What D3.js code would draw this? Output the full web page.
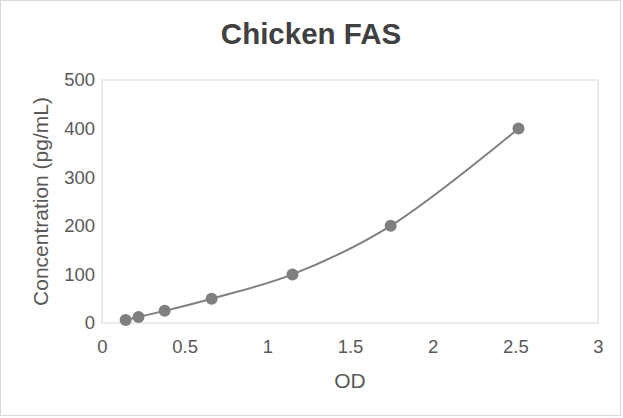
<!DOCTYPE html>
<html>
<head>
<meta charset="utf-8">
<script src="https://cdn.jsdelivr.net/npm/d3@7"></script>
<style>
  body { margin: 0; background: #fff; }
  text { font-family: "Liberation Sans", Arial, sans-serif; }
</style>
</head>
<body>
<svg id="chart" width="623" height="418"></svg>
<script>
// standard curve readings
const odValues = [0.143, 0.221, 0.379, 0.663, 1.152, 1.746, 2.519];
const concValues = [6.25, 12.5, 25, 50, 100, 200, 400];
const xTicks = [0, 0.5, 1, 1.5, 2, 2.5, 3];
const yTicks = [0, 100, 200, 300, 400, 500];

const width = 623;
const height = 418;
const margin = { top: 80, right: 25, bottom: 95, left: 102 };

const svg = d3.select('#chart');

// outer frame
svg.append('rect')
    .attr('x', 0.5).attr('y', 0.5)
    .attr('width', width - 3).attr('height', height - 3)
    .attr('fill', '#fff')
    .attr('stroke', '#d9d9d9');

const x = d3.scaleLinear()
    .domain([0, 3])
    .range([margin.left, width - margin.right]);

const y = d3.scaleLinear()
    .domain([0, 500])
    .range([height - margin.bottom, margin.top]);

// plot area border
svg.append('rect')
    .attr('x', x(0)).attr('y', y(500))
    .attr('width', x(3) - x(0)).attr('height', y(0) - y(500))
    .attr('fill', 'none')
    .attr('stroke', '#d9d9d9');

const xAxis = svg.append('g')
    .attr('transform', `translate(0,${y(0)})`)
    .call(d3.axisBottom(x).tickValues(xTicks).tickSize(0).tickPadding(17).tickFormat(d3.format('')));

const yAxis = svg.append('g')
    .attr('transform', `translate(${x(0)},0)`)
    .call(d3.axisLeft(y).tickValues(yTicks).tickSize(0).tickPadding(7));

[xAxis, yAxis].forEach(g => {
    g.select('.domain').remove();
    g.selectAll('text')
        .attr('fill', '#595959')
        .style('font-size', '18.5px');
});

const points = odValues.map((d, i) => ({ od: d, conc: concValues[i] }));

const line = d3.line()
    .x(d => x(d.od))
    .y(d => y(d.conc))
    .curve(d3.curveCatmullRom.alpha(0.5));

svg.append('path')
    .datum(points)
    .attr('d', line)
    .attr('fill', 'none')
    .attr('stroke', '#7f7f7f')
    .attr('stroke-width', 2);

svg.selectAll('circle')
    .data(points)
    .enter()
    .append('circle')
    .attr('cx', d => x(d.od))
    .attr('cy', d => y(d.conc))
    .attr('r', 6)
    .attr('fill', '#7f7f7f');

svg.append('text')
    .attr('x', 311)
    .attr('y', 44)
    .attr('text-anchor', 'middle')
    .attr('fill', '#404040')
    .style('font-size', '29.5px')
    .style('font-weight', 'bold')
    .text('Chicken FAS');

svg.append('text')
    .attr('x', (x(0) + x(3)) / 2)
    .attr('y', 388)
    .attr('text-anchor', 'middle')
    .attr('fill', '#595959')
    .style('font-size', '21px')
    .text('OD');

svg.append('text')
    .attr('transform', `translate(48,${(y(0) + y(500)) / 2}) rotate(-90)`)
    .attr('text-anchor', 'middle')
    .attr('fill', '#595959')
    .style('font-size', '21px')
    .text('Concentration (pg/mL)');
</script>
</body>
</html>
